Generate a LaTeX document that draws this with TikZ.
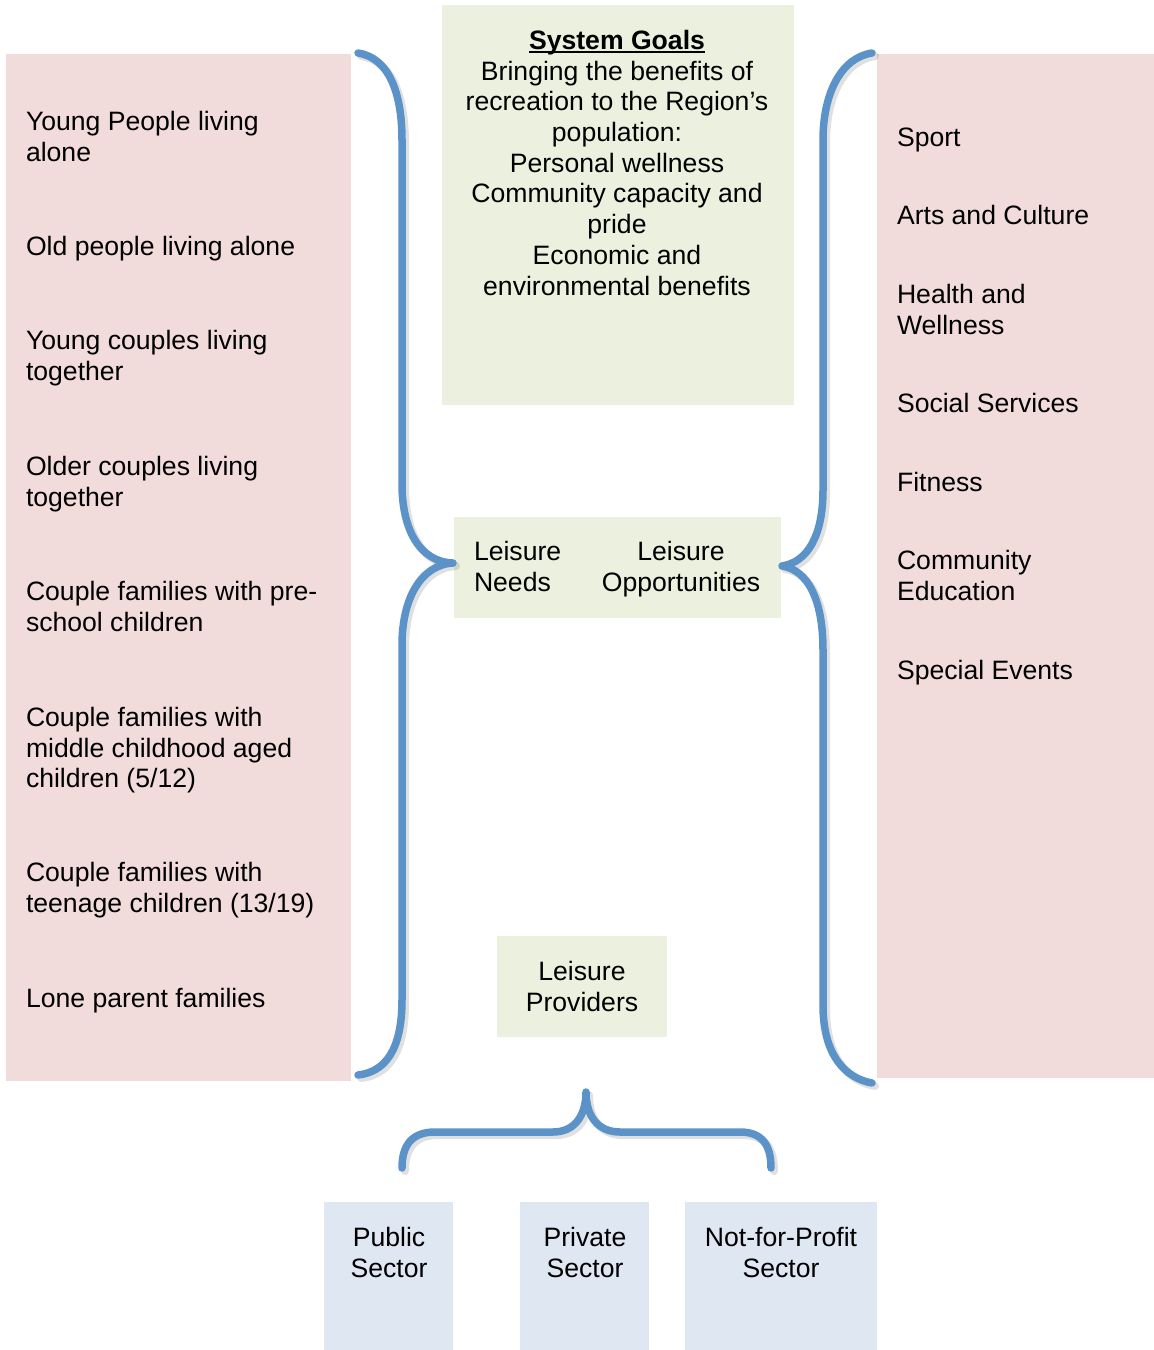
\documentclass[tikz,border=0pt]{standalone}
\usepackage{fontspec}
\setmainfont{Liberation Sans}
\definecolor{pinkbg}{HTML}{F2DCDB}
\definecolor{greenbg}{HTML}{EBF1DE}
\definecolor{bluebg}{HTML}{DFE7F2}
\definecolor{bracecol}{HTML}{5B93C9}
\newcommand{\thickul}[1]{\setbox0=\hbox{#1}\rlap{\raisebox{-4pt}{\vrule width\wd0 height 2.6pt depth 0pt}}\box0}
\begin{document}
\begin{tikzpicture}[x=1pt,y=-1pt,
  every node/.style={inner sep=0pt,outer sep=0pt,font=\fontsize{26.6}{30.7}\selectfont},
  panel/.style={draw=none,anchor=north west},
  pinkpanel/.style={panel,fill=pinkbg},
  greenpanel/.style={panel,fill=greenbg},
  bluepanel/.style={panel,fill=bluebg},
  ltext/.style={anchor=north west,align=left},
  ctext/.style={anchor=north,align=center},
  bracepath/.style={draw=bracecol,line width=7.5pt,line cap=round,line join=round},
  braceshadow/.style={draw=black,opacity=0.12,line width=8pt,line cap=round,line join=round}]
\useasboundingbox (0,0) rectangle (1154,1350);
% panels
\node[pinkpanel,minimum width=345pt,minimum height=1027pt] (leftpanel) at (6,54) {};
\node[pinkpanel,minimum width=277pt,minimum height=1024pt] (rightpanel) at (877,54) {};
\node[greenpanel,minimum width=352pt,minimum height=400pt] (goals) at (442,5) {};
\node[greenpanel,minimum width=327pt,minimum height=101pt] (leisure) at (454,517) {};
\node[greenpanel,minimum width=170pt,minimum height=101pt] (providers) at (497,936) {};
\node[bluepanel,minimum width=129pt,minimum height=148pt] (public) at (324,1202) {};
\node[bluepanel,minimum width=129pt,minimum height=148pt] (private) at (520,1202) {};
\node[bluepanel,minimum width=192pt,minimum height=148pt] (nfp) at (685,1202) {};
% braces: shadows
\begin{scope}[shift={(3,3)}]
\draw[braceshadow] (358,53) .. controls (390,58) and (402,95) .. (402,140) -- (402,484) .. controls (402,530) and (420,562) .. (453,563) .. controls (420,565) and (402,600) .. (402,645) -- (402,1000) .. controls (402,1050) and (385,1072) .. (358,1075);
\draw[braceshadow] (872,53) .. controls (840,58) and (823,95) .. (823,140) -- (823,490) .. controls (823,535) and (808,562) .. (782,566) .. controls (808,570) and (823,600) .. (823,650) -- (823,1005) .. controls (823,1055) and (845,1078) .. (872,1083);
\draw[braceshadow] (402,1168) .. controls (402,1145) and (412,1132) .. (435,1132) -- (553,1132) .. controls (575,1132) and (586,1115) .. (586,1092) .. controls (586,1115) and (597,1132) .. (620,1132) -- (740,1132) .. controls (762,1132) and (771,1145) .. (771,1168);
\end{scope}
% braces
\draw[bracepath] (358,53) .. controls (390,58) and (402,95) .. (402,140) -- (402,484) .. controls (402,530) and (420,562) .. (453,563) .. controls (420,565) and (402,600) .. (402,645) -- (402,1000) .. controls (402,1050) and (385,1072) .. (358,1075);
\draw[bracepath] (872,53) .. controls (840,58) and (823,95) .. (823,140) -- (823,490) .. controls (823,535) and (808,562) .. (782,566) .. controls (808,570) and (823,600) .. (823,650) -- (823,1005) .. controls (823,1055) and (845,1078) .. (872,1083);
\draw[bracepath] (402,1168) .. controls (402,1145) and (412,1132) .. (435,1132) -- (553,1132) .. controls (575,1132) and (586,1115) .. (586,1092) .. controls (586,1115) and (597,1132) .. (620,1132) -- (740,1132) .. controls (762,1132) and (771,1145) .. (771,1168);
% left texts
\node[ltext] (l1) at (26,109) {\strut Young People living\\alone};
\node[ltext] (l2) at (26,234) {\strut Old people living alone};
\node[ltext] (l3) at (26,328) {\strut Young couples living\\together};
\node[ltext] (l4) at (26,454) {\strut Older couples living\\together};
\node[ltext] (l5) at (26,579) {\strut Couple families with pre-\\school children};
\node[ltext] (l6) at (26,705) {\strut Couple families with\\middle childhood aged\\children (5/12)};
\node[ltext] (l7) at (26,860) {\strut Couple families with\\teenage children (13/19)};
\node[ltext] (l8) at (26,986) {\strut Lone parent families};
% right texts
\node[ltext] (r1) at (897,125) {\strut Sport};
\node[ltext] (r2) at (897,203) {\strut Arts and Culture};
\node[ltext] (r3) at (897,282) {\strut Health and\\Wellness};
\node[ltext] (r4) at (897,391) {\strut Social Services};
\node[ltext] (r5) at (897,470) {\strut Fitness};
\node[ltext] (r6) at (897,548) {\strut Community\\Education};
\node[ltext] (r7) at (897,658) {\strut Special Events};
% centre texts
\node[ctext] (goalstext) at (617,28) {\strut\thickul{\textbf{System Goals}}\\Bringing the benefits of\\recreation to the Region’s\\population:\\Personal wellness\\Community capacity and\\pride\\Economic and\\environmental benefits};
\node[ltext] (needs) at (474,539) {\strut Leisure\\Needs};
\node[ctext] (opps) at (681,539) {\strut Leisure\\Opportunities};
\node[ctext] (provtext) at (582,959) {\strut Leisure\\Providers};
\node[ctext] (pubtext) at (389,1225) {\strut Public\\Sector};
\node[ctext] (privtext) at (585,1225) {\strut Private\\Sector};
\node[ctext] (nfptext) at (781,1225) {\strut Not-for-Profit\\Sector};
\end{tikzpicture}
\end{document}
